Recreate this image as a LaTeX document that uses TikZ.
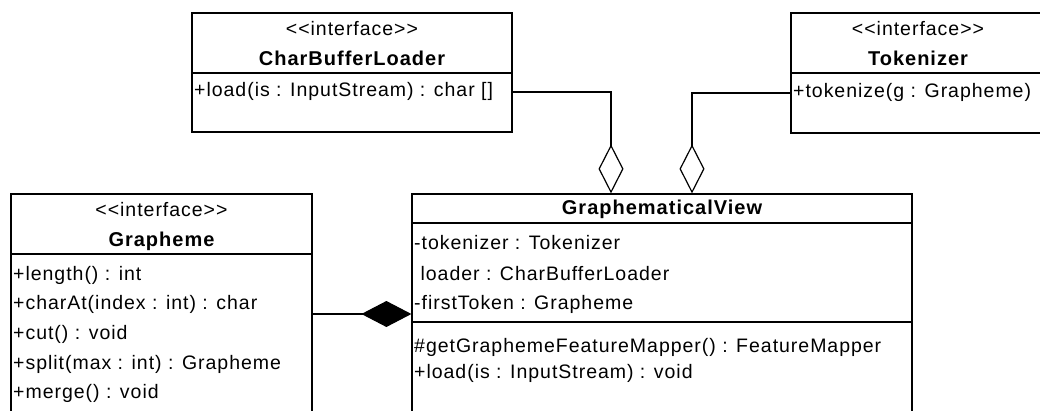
\documentclass[tikz,border=0pt]{standalone}
\usepackage{fontspec}
\setmainfont{Liberation Sans}
\newfontfamily\umlreg[LetterSpace=5]{Liberation Sans}
\newfontfamily\umlbold[LetterSpace=5]{Liberation Sans Bold}
\usetikzlibrary{arrows.meta}
\begin{document}
\begin{tikzpicture}[x=1pt,y=-1pt,
  umlbox/.style={draw=black,line width=1.2pt,fill=white,inner sep=0pt},
  divider/.style={draw=black,line width=1.2pt},
  conn/.style={draw=black,line width=1.2pt},
  stereo/.style={inner sep=0pt,font=\umlreg\fontsize{19.5}{22}\selectfont,text height=14pt,text depth=4pt},
  cname/.style={inner sep=0pt,font=\umlbold\fontsize{20}{22}\selectfont,text height=14pt,text depth=4pt},
  member/.style={inner sep=0pt,anchor=west,font=\umlreg\fontsize{19.5}{22}\selectfont,text height=14pt,text depth=4pt},
  aggtip/.tip={Diamond[open,length=49pt,width=25pt,line width=1.2pt]},
  comptip/.tip={Diamond[length=50pt,width=26pt]}
]
\clip (0,0) rectangle (1040,411);
\fill[white] (0,0) rectangle (1040,411);

% CharBufferLoader
\node[umlbox,minimum width=320pt,minimum height=119pt] (cbl) at (352,72.5) {};
\draw[divider] (192,73) -- (512,73);
\node[stereo] (cbls) at (352,31) {<{}<interface>{}>};
\node[cname] (cbln) at (352,61) {CharBufferLoader};
\node[member] (cblm) at (194,92) {+load(is : InputStream) : char []};

% Tokenizer
\node[umlbox,minimum width=254pt,minimum height=120pt] (tok) at (918,73) {};
\draw[divider] (791,73) -- (1045,73);
\node[stereo] (toks) at (918,31) {<{}<interface>{}>};
\node[cname] (tokn) at (918,61) {Tokenizer};
\node[member] (tokm) at (793,93) {+tokenize(g : Grapheme)};

% Grapheme
\node[umlbox,minimum width=301pt,minimum height=236pt] (gr) at (161.5,312) {};
\draw[divider] (11,254) -- (312,254);
\node[stereo] (grs) at (161.5,212) {<{}<interface>{}>};
\node[cname] (grn) at (161.5,242) {Grapheme};
\node[member] (grm1) at (13,275) {+length() : int};
\node[member] (grm2) at (13,304) {+charAt(index : int) : char};
\node[member] (grm3) at (13,334) {+cut() : void};
\node[member] (grm4) at (13,364) {+split(max : int) : Grapheme};
\node[member] (grm5) at (13,393) {+merge() : void};

% GraphematicalView
\node[umlbox,minimum width=500pt,minimum height=236pt] (gv) at (662,312) {};
\draw[divider] (412,223) -- (912,223);
\draw[divider] (412,322) -- (912,322);
\node[cname] (gvn) at (662,210) {GraphematicalView};
\node[member] (gva1) at (414,245) {-tokenizer : Tokenizer};
\node[member] (gva2) at (414,275) {\ loader : CharBufferLoader};
\node[member] (gva3) at (414,304) {-firstToken : Grapheme};
\node[member] (gvm1) at (414,347) {\#getGraphemeFeatureMapper() : FeatureMapper};
\node[member] (gvm2) at (414,373) {+load(is : InputStream) : void};

% connectors
\coordinate (xa) at (611,0);
\coordinate (xb) at (692,0);
\coordinate (yc) at (0,314);
\draw[conn,-aggtip] (cbl.east |- cblm) -| (gv.north -| xa);
\draw[conn,-aggtip] (tok.west |- tokm) -| (gv.north -| xb);
\draw[conn,-comptip] (gr.east |- yc) -- (gv.west |- yc);
\end{tikzpicture}
\end{document}
